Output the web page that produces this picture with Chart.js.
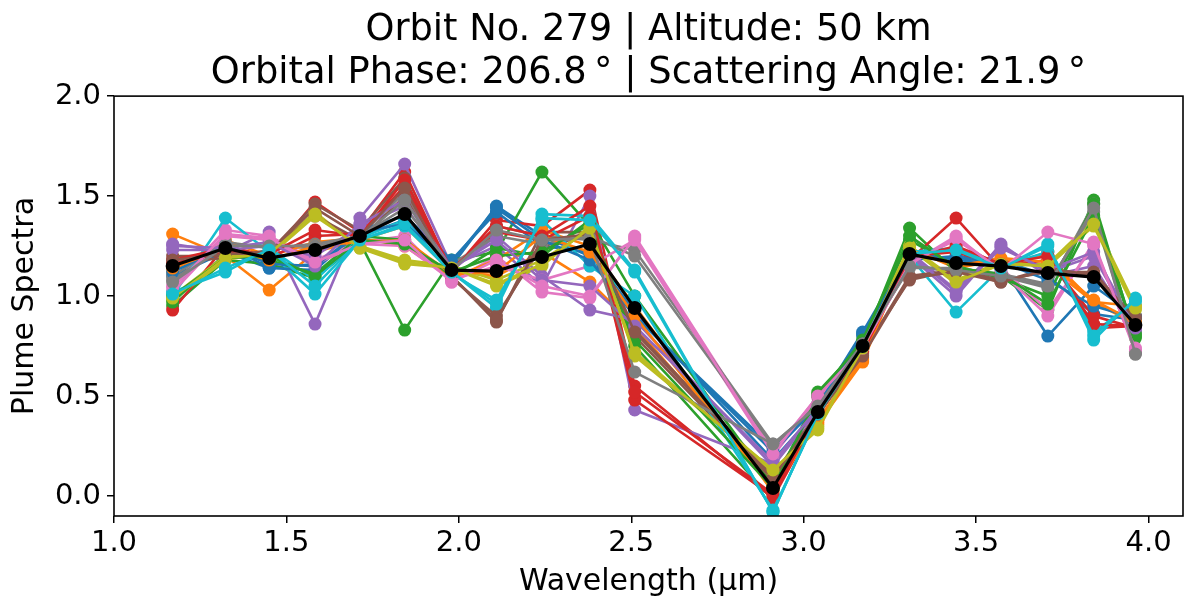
<!DOCTYPE html>
<html>
<head>
<meta charset="utf-8">
<title>Plume Spectra</title>
<script src="https://cdn.jsdelivr.net/npm/chart.js@4.4.0/dist/chart.umd.min.js"></script>
<style>
  html, body { margin: 0; padding: 0; background: #fff; }
  #wrap { width: 1190px; height: 600px; }
</style>
</head>
<body>
<div id="wrap"><canvas id="chart" width="1190" height="600"></canvas></div>
<script>
// wavelength grid (um)
const wavelengths = [1.170, 1.323, 1.450, 1.583, 1.713, 1.843, 1.979, 2.109, 2.241, 2.380,
  2.510, 2.911, 3.041, 3.171, 3.307, 3.442, 3.572, 3.708, 3.841, 3.962];

// black curve on top
const meanSpectrum = [1.15, 1.24, 1.19, 1.23, 1.30, 1.41, 1.13, 1.125, 1.195, 1.26,
  0.94, 0.04, 0.42, 0.75, 1.21, 1.165, 1.15, 1.115, 1.095, 0.855];

// individual spectra, in plotting order
const spectra = [
  [1.10, 1.22, 1.14, 1.16, 1.30, 1.38, 1.15, 1.45, 1.30, 1.20, 0.90, 0.24, 0.46, 0.82, 1.22, 1.18, 1.16, 0.80, 1.05, 0.90],
  [1.31, 1.20, 1.03, 1.22, 1.28, 1.35, 1.12, 1.10, 1.22, 1.07, 0.85, 0.05, 0.36, 0.67, 1.24, 1.14, 1.18, 1.15, 0.97, 0.95],
  [0.95, 1.18, 1.16, 1.09, 1.27, 0.83, 1.18, 1.22, 1.62, 1.35, 0.75, -0.02, 0.52, 0.76, 1.34, 1.12, 1.10, 0.93, 1.48, 0.79],
  [0.93, 1.25, 1.20, 1.47, 1.32, 1.62, 1.12, 1.38, 1.35, 1.53, 0.55, -0.01, 0.40, 0.73, 1.18, 1.39, 1.14, 1.22, 0.84, 0.85],
  [1.26, 1.22, 1.32, 0.86, 1.39, 1.66, 1.15, 1.25, 1.05, 1.50, 0.43, 0.16, 0.44, 0.76, 1.20, 1.00, 1.26, 1.10, 1.15, 0.82],
  [1.20, 1.20, 1.22, 1.46, 1.33, 1.59, 1.10, 0.87, 1.32, 1.32, 0.83, 0.10, 0.42, 0.72, 1.08, 1.13, 1.07, 1.14, 1.10, 0.90],
  [1.05, 1.33, 1.30, 1.18, 1.27, 1.30, 1.07, 1.20, 1.02, 0.99, 1.30, 0.22, 0.50, 0.74, 1.16, 1.30, 1.12, 0.90, 1.27, 0.72],
  [1.08, 1.26, 1.25, 1.24, 1.30, 1.52, 1.12, 1.35, 1.30, 1.28, 1.23, 0.26, 0.45, 0.76, 1.15, 1.12, 1.10, 1.04, 1.46, 0.71],
  [0.98, 1.18, 1.22, 1.42, 1.24, 1.16, 1.14, 1.05, 1.15, 1.35, 0.70, 0.13, 0.33, 0.74, 1.24, 1.06, 1.16, 1.16, 1.38, 0.95],
  [1.00, 1.39, 1.22, 1.01, 1.28, 1.35, 1.12, 0.94, 1.41, 1.40, 1.13, -0.08, 0.41, 0.75, 1.20, 0.92, 1.14, 1.26, 0.78, 0.99],
  [1.15, 1.26, 1.14, 1.13, 1.33, 1.40, 1.18, 1.42, 1.25, 1.22, 0.92, 0.18, 0.43, 0.80, 1.18, 1.20, 1.18, 1.10, 0.91, 0.88],
  [1.12, 1.28, 1.20, 1.27, 1.29, 1.25, 1.09, 1.18, 1.33, 1.25, 0.95, 0.02, 0.38, 0.69, 1.22, 1.16, 1.17, 1.20, 0.97, 0.86],
  [0.97, 1.21, 1.18, 1.11, 1.30, 1.28, 1.10, 1.24, 1.20, 1.38, 1.00, 0.05, 0.51, 0.77, 1.28, 1.15, 1.09, 1.00, 1.46, 0.80],
  [1.18, 1.24, 1.19, 1.30, 1.31, 1.55, 1.14, 1.32, 1.28, 1.40, 0.48, 0.00, 0.42, 0.74, 1.20, 1.22, 1.15, 1.18, 0.90, 0.84],
  [1.23, 1.23, 1.25, 1.20, 1.35, 1.45, 1.13, 1.30, 1.10, 0.93, 0.88, 0.15, 0.43, 0.75, 1.22, 1.03, 1.25, 1.12, 1.20, 0.83],
  [1.17, 1.19, 1.23, 1.40, 1.28, 1.50, 1.09, 0.90, 1.25, 1.30, 0.80, 0.08, 0.41, 0.71, 1.10, 1.13, 1.08, 1.12, 1.12, 0.88],
  [1.02, 1.30, 1.28, 1.16, 1.26, 1.25, 1.08, 1.15, 1.08, 1.15, 1.28, 0.20, 0.49, 0.73, 1.17, 1.28, 1.14, 0.93, 1.25, 0.74],
  [1.10, 1.27, 1.24, 1.26, 1.30, 1.44, 1.16, 1.30, 1.26, 1.30, 1.20, 0.25, 0.46, 0.77, 1.14, 1.14, 1.11, 1.06, 1.42, 0.72],
  [1.00, 1.20, 1.20, 1.40, 1.25, 1.18, 1.15, 1.08, 1.18, 1.33, 0.72, 0.12, 0.35, 0.75, 1.25, 1.08, 1.17, 1.15, 1.35, 0.93],
  [1.02, 1.12, 1.24, 1.08, 1.29, 1.38, 1.11, 0.98, 1.38, 1.15, 1.00, -0.07, 0.40, 0.76, 1.22, 1.24, 1.15, 1.22, 0.82, 0.97],
  [1.12, 1.25, 1.16, 1.15, 1.32, 1.36, 1.17, 1.44, 1.28, 1.18, 0.90, 0.22, 0.45, 0.81, 1.20, 1.19, 1.17, 1.08, 0.95, 0.89],
  [1.14, 1.24, 1.18, 1.25, 1.27, 1.28, 1.11, 1.12, 1.30, 1.22, 0.90, 0.03, 0.37, 0.68, 1.23, 1.15, 1.19, 1.17, 0.98, 0.87],
  [1.00, 1.19, 1.20, 1.10, 1.28, 1.26, 1.12, 1.20, 1.22, 1.36, 0.78, 0.04, 0.50, 0.78, 1.30, 1.14, 1.11, 0.96, 1.40, 0.81],
  [1.16, 1.22, 1.21, 1.33, 1.30, 1.58, 1.13, 1.35, 1.30, 1.45, 0.52, 0.01, 0.41, 0.72, 1.19, 1.25, 1.16, 1.20, 0.86, 0.85],
  [1.25, 1.24, 1.27, 1.15, 1.36, 1.48, 1.14, 1.28, 1.08, 1.05, 0.85, 0.17, 0.44, 0.76, 1.21, 1.02, 1.24, 1.13, 1.22, 0.84],
  [1.18, 1.21, 1.22, 1.44, 1.30, 1.54, 1.10, 0.88, 1.28, 1.31, 0.82, 0.09, 0.41, 0.70, 1.09, 1.12, 1.07, 1.13, 1.11, 0.89],
  [1.04, 1.31, 1.29, 1.17, 1.26, 1.28, 1.07, 1.18, 1.05, 1.00, 1.29, 0.21, 0.50, 0.74, 1.16, 1.29, 1.13, 1.32, 1.26, 0.73],
  [1.07, 1.25, 1.25, 1.25, 1.29, 1.48, 1.13, 1.33, 1.28, 1.29, 0.62, 0.26, 0.45, 0.76, 1.15, 1.13, 1.10, 1.05, 1.44, 0.71],
  [0.99, 1.19, 1.21, 1.41, 1.24, 1.17, 1.14, 1.06, 1.16, 1.34, 0.71, 0.13, 0.34, 0.74, 1.24, 1.07, 1.16, 1.15, 1.36, 0.94],
  [1.01, 1.14, 1.23, 1.05, 1.28, 1.36, 1.12, 0.96, 1.39, 1.38, 1.12, -0.08, 0.41, 0.75, 1.21, 1.23, 1.14, 1.25, 0.80, 0.98],
];

const palette = ["#1f77b4", "#ff7f0e", "#2ca02c", "#d62728", "#9467bd",
  "#8c564b", "#e377c2", "#7f7f7f", "#bcbd22", "#17becf"];

const xTicks = [1.0, 1.5, 2.0, 2.5, 3.0, 3.5, 4.0];
const yTicks = [0.0, 0.5, 1.0, 1.5, 2.0];
const titleLines = [
  "Orbit No. 279 | Altitude: 50 km",
  "Orbital Phase: 206.8\u2009\u00b0 | Scattering Angle: 21.9\u2009\u00b0",
];

(() => {
  Chart.defaults.font.family = "'DejaVu Sans', sans-serif";
  Chart.defaults.color = "#000";

  const toPoints = (vals) => vals.map((v, i) => ({ x: wavelengths[i], y: v }));

  // chart.js draws dataset 0 last, so the mean goes first and the rest reversed
  const datasets = [{
    data: toPoints(meanSpectrum),
    borderColor: "#000",
    backgroundColor: "#000",
    borderWidth: 3.2,
    pointRadius: 7,
    pointBorderWidth: 0,
  }];
  for (let i = spectra.length - 1; i >= 0; i--) {
    const c = palette[i % palette.length];
    datasets.push({
      data: toPoints(spectra[i]),
      borderColor: c,
      backgroundColor: c,
      borderWidth: 2.6,
      pointRadius: 6.5,
      pointBorderWidth: 0,
    });
  }

  const frame = {
    id: "frame",
    afterDraw(chart) {
      const { ctx, chartArea: a } = chart;
      ctx.save();
      ctx.strokeStyle = "#000";
      ctx.lineWidth = 1.6;
      ctx.strokeRect(a.left, a.top, a.right - a.left, a.bottom - a.top);
      ctx.restore();
    },
  };

  const tickGrid = { drawOnChartArea: false, drawTicks: true, tickLength: 7, color: "#000", lineWidth: 1.5 };

  new Chart(document.getElementById("chart"), {
    type: "line",
    data: { datasets },
    plugins: [frame],
    options: {
      responsive: false,
      devicePixelRatio: 1,
      animation: false,
      layout: { padding: { left: 0, right: -4, top: 0, bottom: 0 } },
      plugins: {
        legend: { display: false },
        tooltip: { enabled: false },
        title: {
          display: true,
          text: titleLines,
          fullSize: false,
          font: { size: 36.8, weight: "normal", lineHeight: 1.17 },
          color: "#000",
          padding: { top: 9, bottom: 1 },
        },
      },
      scales: {
        x: {
          type: "linear",
          min: 1.0,
          max: 4.1,
          grid: tickGrid,
          border: { display: false },
          afterBuildTicks: (s) => { s.ticks = xTicks.map((v) => ({ value: v })); },
          afterFit: (s) => { s.height = 84; },
          ticks: { font: { size: 29 }, padding: 3, maxRotation: 0, callback: (v) => Number(v).toFixed(1) },
          title: { display: true, text: "Wavelength (\u03bcm)", font: { size: 30, lineHeight: 1.2 }, padding: { top: 0, bottom: 0 } },
        },
        y: {
          min: -0.1,
          max: 2.0,
          grid: tickGrid,
          border: { display: false },
          afterBuildTicks: (s) => { s.ticks = yTicks.map((v) => ({ value: v })); },
          afterFit: (s) => { s.width = 114; },
          ticks: { font: { size: 29 }, padding: 6, callback: (v) => Number(v).toFixed(1) },
          title: { display: true, text: "Plume Spectra", font: { size: 30, lineHeight: 1.2 }, padding: { top: 7, bottom: 0 } },
        },
      },
    },
  });
})();
</script>
</body>
</html>
